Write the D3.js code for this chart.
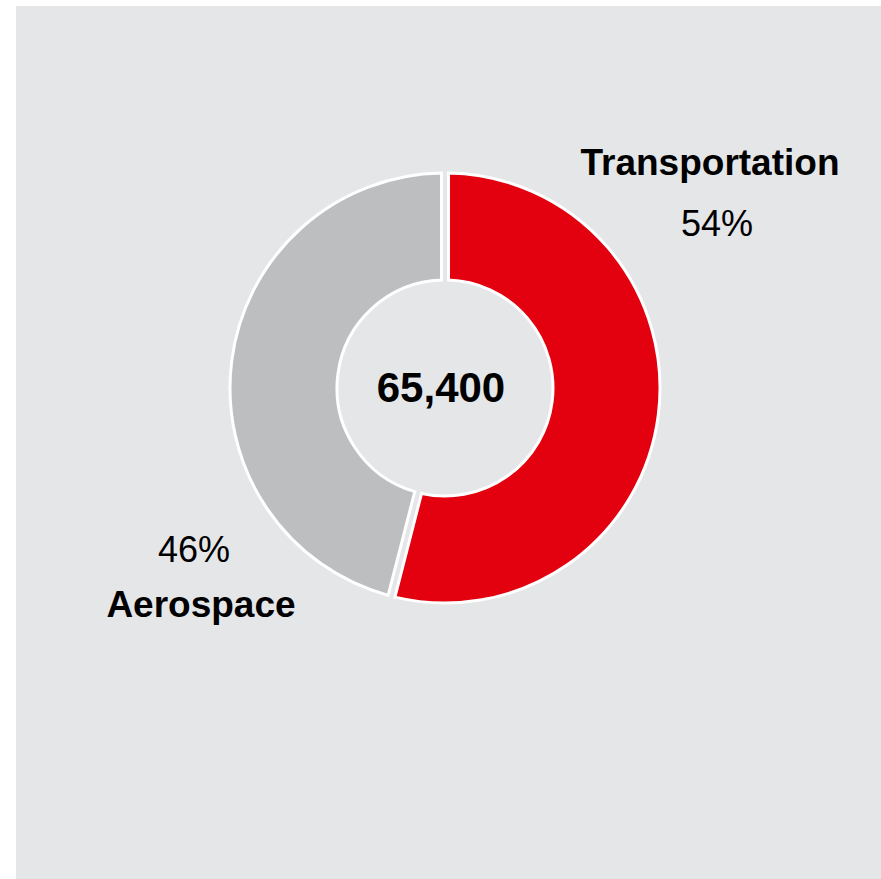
<!DOCTYPE html>
<html>
<head>
<meta charset="utf-8">
<script src="https://cdn.jsdelivr.net/npm/d3@7"></script>
<style>
  html, body { margin: 0; padding: 0; background: #fff; }
  svg { display: block; }
</style>
</head>
<body>
<svg width="881" height="879"></svg>
<script>
const categories = ["Transportation", "Aerospace"]
const shares = [54, 46]
const labels = ["54%", "46%"]
const total = "65,400"
const colors = ["#e3000f", "#bdbec0"]

const width = 881
const height = 879
const cx = 445, cy = 388
const outerR = 215, innerR = 108

const svg = d3.select("svg")

svg.append("rect")
    .attr("x", 16)
    .attr("y", 6)
    .attr("width", width - 16)
    .attr("height", height - 6)
    .style("fill", "#e5e6e8")

const data = categories.map((c, i) => ({ name: c, value: shares[i], label: labels[i], color: colors[i] }))

const pie = d3.pie()
    .sort(null)
    .value(d => d.value)

const arc = d3.arc()
    .innerRadius(innerR)
    .outerRadius(outerR)
    .padAngle(7 / outerR)
    .padRadius(outerR)

const g = svg.append("g")
    .attr("transform", `translate(${cx},${cy})`)

g.selectAll("path")
    .data(pie(data))
    .join("path")
    .attr("d", arc)
    .style("fill", d => d.data.color)
    .style("stroke", "#ffffff")
    .style("stroke-width", 3)
    .style("stroke-linejoin", "miter")

g.append("text")
    .attr("x", -4)
    .attr("y", 14)
    .attr("text-anchor", "middle")
    .style("font-family", "'Liberation Sans', Arial, sans-serif")
    .style("font-weight", "bold")
    .style("font-size", "42px")
    .style("fill", "#000")
    .text(total)

// label positions in page coordinates
const labelPos = [
    { name: [710, 175], pct: [717, 236] },
    { name: [201, 617], pct: [194, 562] }
]

data.forEach((d, i) => {
    svg.append("text")
        .attr("x", labelPos[i].name[0])
        .attr("y", labelPos[i].name[1])
        .attr("text-anchor", "middle")
        .style("font-family", "'Liberation Sans', Arial, sans-serif")
        .style("font-weight", "bold")
        .style("font-size", "37px")
        .style("fill", "#000")
        .text(d.name)

    svg.append("text")
        .attr("x", labelPos[i].pct[0])
        .attr("y", labelPos[i].pct[1])
        .attr("text-anchor", "middle")
        .style("font-family", "'Liberation Sans', Arial, sans-serif")
        .style("font-size", "36px")
        .style("fill", "#000")
        .text(d.label)
})
</script>
</body>
</html>
